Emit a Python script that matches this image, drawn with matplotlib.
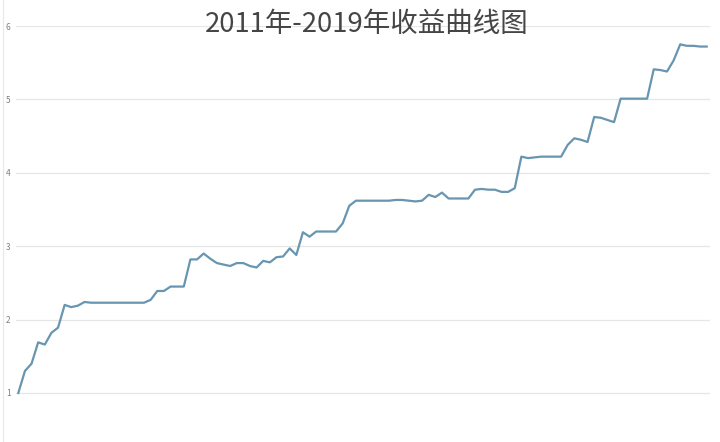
import matplotlib
matplotlib.use("Agg")
import matplotlib.pyplot as plt

plt.rcParams['font.family'] = ['Noto Sans CJK SC', 'DejaVu Sans']

##### Data #####
title = "2011年-2019年收益曲线图"
yticks = [1, 2, 3, 4, 5, 6]
curve = [
    1.00, 1.30, 1.40, 1.69, 1.66, 1.82, 1.89, 2.20, 2.17, 2.19,
    2.24, 2.23, 2.23, 2.23, 2.23, 2.23, 2.23, 2.23, 2.23, 2.23,
    2.27, 2.39, 2.39, 2.45, 2.45, 2.45, 2.82, 2.82, 2.90, 2.83,
    2.77, 2.75, 2.73, 2.77, 2.77, 2.73, 2.71, 2.80, 2.78, 2.85,
    2.86, 2.97, 2.88, 3.19, 3.13, 3.20, 3.20, 3.20, 3.20, 3.31,
    3.55, 3.62, 3.62, 3.62, 3.62, 3.62, 3.62, 3.63, 3.63, 3.62,
    3.61, 3.62, 3.70, 3.67, 3.73, 3.65, 3.65, 3.65, 3.65, 3.77,
    3.78, 3.77, 3.77, 3.74, 3.74, 3.79, 4.22, 4.20, 4.21, 4.22,
    4.22, 4.22, 4.22, 4.38, 4.47, 4.45, 4.42, 4.76, 4.75, 4.72,
    4.69, 5.01, 5.01, 5.01, 5.01, 5.01, 5.41, 5.40, 5.38, 5.53,
    5.75, 5.73, 5.73, 5.72, 5.72,
]
months = list(range(len(curve)))

##### Plot #####
W, H = 720, 442
fig = plt.figure(figsize=(W / 100, H / 100), dpi=100)
ax = fig.add_axes([16 / W, 0, (710 - 16) / W, (H - 26) / H])

ax.plot(months, curve, color='#6895b0', linewidth=1.6, zorder=3)

ax.set_xlim(-0.35, 104.5)
ax.set_ylim(1 - 49 / 73.4, 6)
ax.set_yticks(yticks)
ax.set_yticklabels([str(t) for t in yticks])
ax.set_xticks([])
ax.grid(axis='y', color='#e6e6e6', linewidth=0.9)
ax.set_axisbelow(True)
for s in ax.spines.values():
    s.set_visible(False)
ax.tick_params(axis='y', length=0, pad=4, labelsize=6, labelcolor='#808080')

# faint left border of the picture
fig.add_artist(plt.Line2D([2.5 / W, 2.5 / W], [0, 1], color='#e8e8e8', linewidth=0.8))

fig.text(367 / W, 1 - 24 / H, title, ha='center', va='center',
         fontsize=19.8, fontweight='light', color='#454545')

fig.savefig("out.png", dpi=100)
